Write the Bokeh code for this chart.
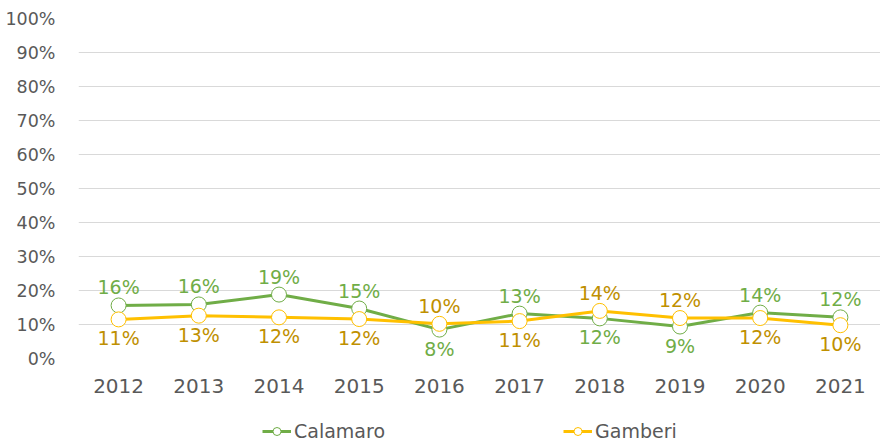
from bokeh.plotting import figure
from bokeh.layouts import column
from bokeh.models import ColumnDataSource, NumeralTickFormatter, Legend, LegendItem, FixedTicker
from bokeh.core.properties import value
from bokeh.embed import file_html
from bokeh.resources import INLINE

years = ["2012", "2013", "2014", "2015", "2016", "2017", "2018", "2019", "2020", "2021"]
calamaro = [0.156, 0.159, 0.188, 0.147, 0.085, 0.132, 0.118, 0.094, 0.135, 0.121]
gamberi = [0.115, 0.126, 0.121, 0.116, 0.102, 0.110, 0.140, 0.119, 0.119, 0.098]
calamaro_labels = ["16%", "16%", "19%", "15%", "8%", "13%", "12%", "9%", "14%", "12%"]
gamberi_labels = ["11%", "13%", "12%", "12%", "10%", "11%", "14%", "12%", "12%", "10%"]
calamaro_above = [True, True, True, True, False, True, False, False, True, True]
series_names = ["Calamaro", "Gamberi"]
y_ticks = [0, 0.1, 0.2, 0.3, 0.4, 0.5, 0.6, 0.7, 0.8, 0.9, 1.0]

GREEN = "#70AD47"
YELLOW = "#FFC000"
GOLD = "#BF9000"
GREY = "#595959"
FONT = "DejaVu Sans"

p = figure(x_range=years, y_range=(0, 1.0), width=880, height=398,
           output_backend="svg", toolbar_location=None,
           min_border_left=78, min_border_right=0, min_border_top=18, min_border_bottom=40)
p.outline_line_color = None
p.background_fill_color = "white"
p.border_fill_color = "white"

p.xgrid.grid_line_color = None
p.ygrid.grid_line_color = "#D9D9D9"
p.ygrid.grid_line_width = 1
p.yaxis.ticker = FixedTicker(ticks=y_ticks)
p.yaxis.formatter = NumeralTickFormatter(format="0%")
for ax in (p.xaxis[0], p.yaxis[0]):
    ax.axis_line_color = None
    ax.major_tick_line_color = None
    ax.minor_tick_line_color = None
    ax.major_label_text_color = GREY
    ax.major_label_text_font = FONT
p.yaxis.major_label_text_font_size = "17.5px"
p.xaxis.major_label_text_font_size = "20px"
p.yaxis.major_label_standoff = 17
p.xaxis.major_label_standoff = 14

src_c = ColumnDataSource(dict(x=years, y=calamaro))
src_g = ColumnDataSource(dict(x=years, y=gamberi))

p.line("x", "y", source=src_c, line_color=GREEN, line_width=3)
p.scatter("x", "y", source=src_c, size=15, fill_color="white", line_color=GREEN, line_width=1)
p.line("x", "y", source=src_g, line_color=YELLOW, line_width=3)
p.scatter("x", "y", source=src_g, size=15, fill_color="white", line_color=YELLOW, line_width=1)

# data labels
ca_x, ca_y, ca_t, cb_x, cb_y, cb_t = [], [], [], [], [], []
ga_x, ga_y, ga_t, gb_x, gb_y, gb_t = [], [], [], [], [], []
for i, yr in enumerate(years):
    if calamaro_above[i]:
        ca_x.append(yr); ca_y.append(calamaro[i]); ca_t.append(calamaro_labels[i])
        gb_x.append(yr); gb_y.append(gamberi[i]); gb_t.append(gamberi_labels[i])
    else:
        cb_x.append(yr); cb_y.append(calamaro[i]); cb_t.append(calamaro_labels[i])
        ga_x.append(yr); ga_y.append(gamberi[i]); ga_t.append(gamberi_labels[i])

common = dict(text_font=value(FONT), text_font_size="19px", text_align="center")
p.text(x=ca_x, y=ca_y, text=ca_t, text_color=GREEN, text_baseline="bottom", y_offset=-7, **common)
p.text(x=cb_x, y=cb_y, text=cb_t, text_color=GREEN, text_baseline="top", y_offset=8, **common)
p.text(x=ga_x, y=ga_y, text=ga_t, text_color=GOLD, text_baseline="bottom", y_offset=-7, **common)
p.text(x=gb_x, y=gb_y, text=gb_t, text_color=GOLD, text_baseline="top", y_offset=8, **common)

# legend strip: same series drawn outside its visible y range, so only the legend shows
lf = figure(width=880, height=46, output_backend="svg", toolbar_location=None,
            x_range=years, y_range=(5, 6),
            min_border_left=0, min_border_right=0, min_border_top=0, min_border_bottom=0)
lf.axis.visible = False
lf.grid.visible = False
lf.outline_line_color = None
llc = lf.line("x", "y", source=src_c, line_color=GREEN, line_width=3)
lmc = lf.scatter("x", "y", source=src_c, size=14, fill_color="white", line_color=GREEN, line_width=1)
llg = lf.line("x", "y", source=src_g, line_color=YELLOW, line_width=3)
lmg = lf.scatter("x", "y", source=src_g, size=14, fill_color="white", line_color=YELLOW, line_width=1)

legend = Legend(items=[LegendItem(label=series_names[0], renderers=[llc, lmc]),
                       LegendItem(label=series_names[1], renderers=[llg, lmg])],
                orientation="horizontal", location=(184, 2),
                spacing=178, glyph_width=29, label_standoff=3, padding=0, margin=0,
                label_text_font=FONT, label_text_font_size="19px", label_text_color=GREY,
                border_line_color=None, background_fill_alpha=0)
lf.add_layout(legend, "center")

open("out.html", "w").write(file_html(column(p, lf, spacing=0), INLINE))
